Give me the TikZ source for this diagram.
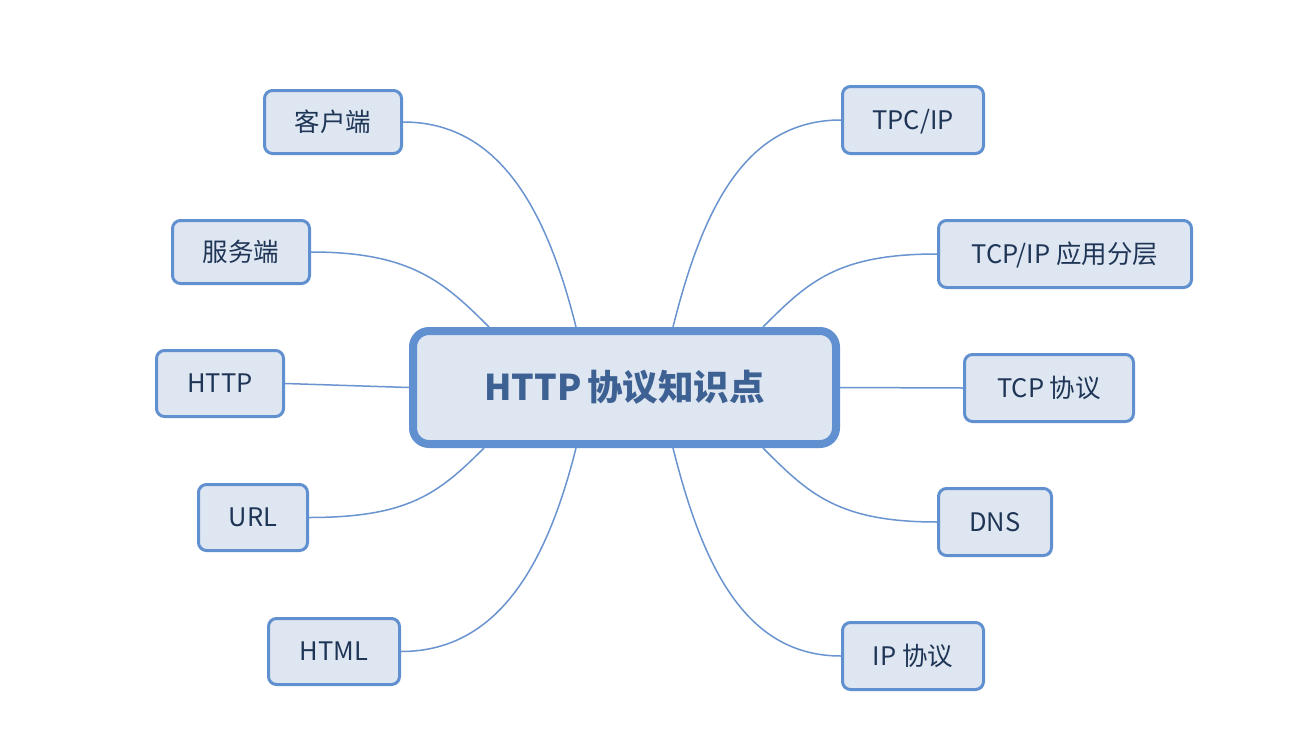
\documentclass[tikz,border=0pt]{standalone}
\usepackage{fontspec}
\setmainfont{Noto Sans CJK SC}
\definecolor{bd}{HTML}{6090CF}
\definecolor{fl}{HTML}{DEE6F1}
\definecolor{tx}{HTML}{1F3556}
\definecolor{ctx}{HTML}{3E6193}
\definecolor{ln}{HTML}{6A94D0}
\begin{document}
\begin{tikzpicture}[x=1pt,y=-1pt,
  leaf/.style={draw=bd,fill=fl,line width=3pt,rounded corners=8pt,inner sep=0pt,text=tx,font=\fontsize{25.5}{28}\selectfont,text height=24pt,text depth=6pt},
  hub/.style={draw=bd,fill=fl,line width=8pt,rounded corners=16pt,inner sep=0pt,text=ctx,font=\fontsize{35.5}{40}\selectfont\bfseries,minimum width=423pt,minimum height=113pt,text height=32pt,text depth=6pt},
  link/.style={draw=ln,line width=1.5pt}]
\useasboundingbox (0,0) rectangle (1292,728);
\fill[white] (0,0) rectangle (1292,728);
\node[hub] (c) at (624.5,387.5) {HTTP\hspace{6pt}协议知识点};
\node[leaf,minimum width=137pt,minimum height=63pt] (k1) at (333,122) {客户端};
\node[leaf,minimum width=137pt,minimum height=63pt] (k2) at (241,252) {服务端};
\node[leaf,minimum width=127pt,minimum height=66pt] (k3) at (220,383.5) {HTTP};
\node[leaf,minimum width=109pt,minimum height=66pt] (k4) at (253,517.5) {URL};
\node[leaf,minimum width=131pt,minimum height=66pt] (k5) at (334,651.5) {HTML};
\node[leaf,minimum width=141pt,minimum height=67pt] (r1) at (913,120) {TPC/IP};
\node[leaf,minimum width=253pt,minimum height=67pt] (r2) at (1065,254) {TCP/IP 应用分层};
\node[leaf,minimum width=169pt,minimum height=67pt] (r3) at (1049,388) {TCP 协议};
\node[leaf,minimum width=113pt,minimum height=67pt] (r4) at (995,522) {DNS};
\node[leaf,minimum width=141pt,minimum height=67pt] (r5) at (913,656) {IP 协议};
\coordinate (tn1) at ([xshift=-135.5pt]c.north);
\coordinate (tn2) at ([xshift=-48.5pt]c.north);
\coordinate (tn3) at ([xshift=48.5pt]c.north);
\coordinate (tn4) at ([xshift=138.5pt]c.north);
\coordinate (bs1) at ([xshift=-140.5pt]c.south);
\coordinate (bs2) at ([xshift=-48.5pt]c.south);
\coordinate (bs3) at ([xshift=48.5pt]c.south);
\coordinate (bs4) at ([xshift=138.5pt]c.south);
\draw[link] (k1.east) .. controls +(95,0) and +(-30,-120) .. (tn2);
\draw[link] (k2.east) .. controls +(100,0) and +(-45,-45) .. (tn1);
\draw[link] (k3.east) -- (c.west);
\draw[link] (k4.east) .. controls +(100,0) and +(-45,45) .. (bs1);
\draw[link] (k5.east) .. controls +(95,0) and +(-30,120) .. (bs2);
\draw[link] (r1.west) .. controls +(-95,0) and +(30,-120) .. (tn3);
\draw[link] (r2.west) .. controls +(-100,0) and +(45,-45) .. (tn4);
\draw[link] (r3.west) -- (c.east);
\draw[link] (r4.west) .. controls +(-100,0) and +(45,45) .. (bs4);
\draw[link] (r5.west) .. controls +(-95,0) and +(30,120) .. (bs3);
\end{tikzpicture}
\end{document}
